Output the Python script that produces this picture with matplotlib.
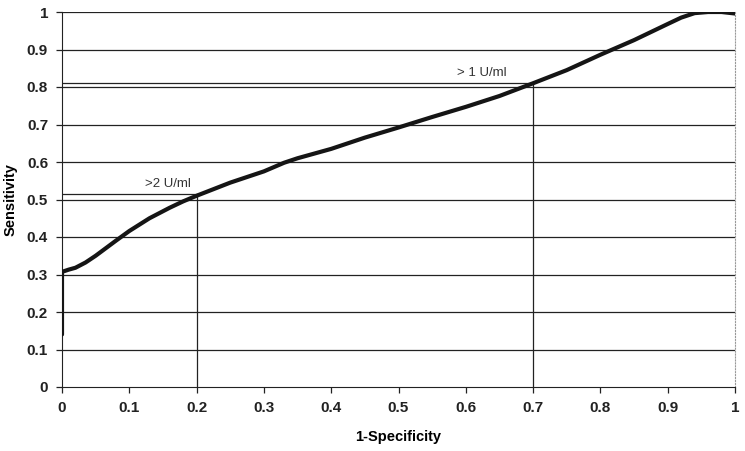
import numpy as np
import matplotlib.pyplot as plt

# ROC curve
fpr = [0.0, 0.0, 0.0, 0.01, 0.02, 0.035, 0.05, 0.065, 0.08, 0.10, 0.13, 0.16, 0.18,
       0.20, 0.25, 0.30, 0.33, 0.35, 0.40, 0.45, 0.50, 0.55, 0.60, 0.65, 0.70,
       0.75, 0.80, 0.85, 0.90, 0.92, 0.94, 0.96, 0.98, 1.0]
tpr = [0.14, 0.25, 0.307, 0.313, 0.318, 0.332, 0.35, 0.37, 0.39, 0.416, 0.45, 0.478,
       0.495, 0.51, 0.545, 0.575, 0.598, 0.61, 0.635, 0.665, 0.692, 0.72, 0.747,
       0.776, 0.81, 0.845, 0.886, 0.925, 0.968, 0.985, 0.997, 1.0, 1.0, 0.996]

# cut-off points
cut_x = [0.2, 0.7]
cut_y = [0.515, 0.81]
cut_labels = ['>2 U/ml', '> 1 U/ml']
label_pos = [(0.123, 0.525), (0.587, 0.822)]

ticks = np.round(np.arange(0, 1.01, 0.1), 1)
tick_labels = ['0' if t == 0 else ('1' if t == 1 else f'{t:g}') for t in ticks]

plt.rcParams['font.family'] = ['Liberation Sans', 'DejaVu Sans']

fig = plt.figure(figsize=(7.45, 4.51), dpi=100)
ax = fig.add_axes([62 / 745, 64 / 451, 673 / 745, 375 / 451])

for t in ticks[1:]:
    ax.axhline(t, color='#222222', lw=0.9, zorder=1)

ax.plot(fpr, tpr, color='#151515', lw=3.0, solid_capstyle='round',
        solid_joinstyle='round', zorder=3)

for cx, cy, lab, (lx, ly) in zip(cut_x, cut_y, cut_labels, label_pos):
    ax.plot([0, cx], [cy, cy], color='#222222', lw=0.9, zorder=2)
    ax.plot([cx, cx], [0, cy], color='#222222', lw=0.9, zorder=2)
    ax.text(lx, ly, lab, fontsize=9.5, color='#333333', ha='left', va='bottom')

ax.set_xlim(0, 1)
ax.set_ylim(0, 1)
ax.set_xticks(ticks)
ax.set_xticklabels(tick_labels, fontsize=11, fontweight='bold', color='#222222')
ax.set_yticks(ticks)
ax.set_yticklabels(tick_labels, fontsize=11, fontweight='bold', color='#222222')
ax.tick_params(axis='both', direction='out', length=4, width=0.9, color='#222222', pad=6)

ax.spines['top'].set_visible(False)
ax.spines['right'].set_color('#999999')
ax.spines['right'].set_linestyle(':')
ax.spines['left'].set_color('#222222')
ax.spines['bottom'].set_color('#222222')

ax.set_xlabel('1-Specificity', fontsize=10.5, fontweight='bold', labelpad=11)
ax.set_ylabel('Sensitivity', fontsize=10.5, fontweight='bold', labelpad=7)

fig.savefig('out.png', dpi=100)
